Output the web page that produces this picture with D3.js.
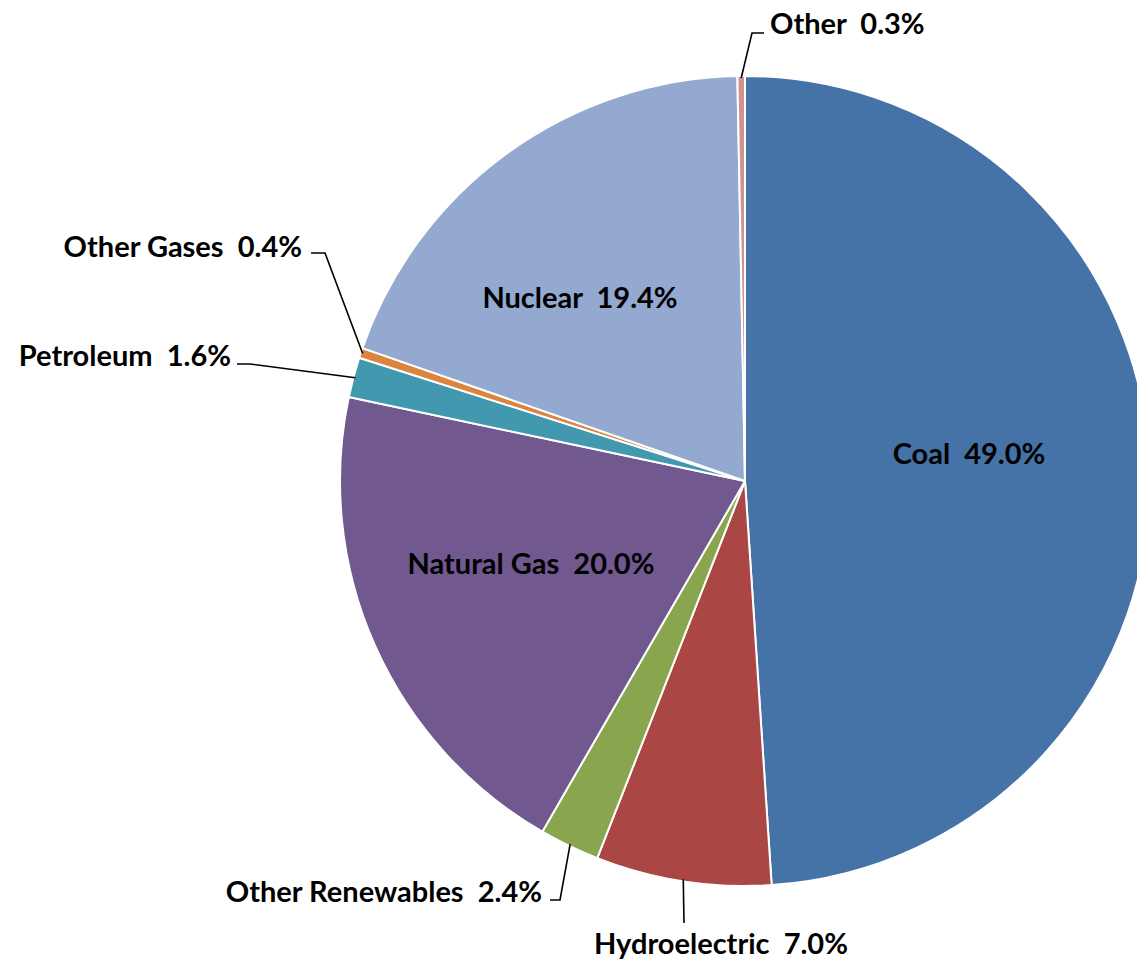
<!DOCTYPE html>
<html>
<head>
<meta charset="utf-8">
<script src="https://cdn.jsdelivr.net/npm/d3@7"></script>
<style>
  html, body { margin: 0; padding: 0; background: #fff; }
  svg text { font-family: Lato, "Open Sans", sans-serif; font-weight: bold; fill: #000; }
</style>
</head>
<body>
<svg id="chart" width="1137" height="960"></svg>
<script>
// Electricity generation by source (percent share)
const sources = ["Coal", "Hydroelectric", "Other Renewables", "Natural Gas", "Petroleum", "Other Gases", "Nuclear", "Other"];
const shares  = [49.0, 7.0, 2.4, 20.0, 1.6, 0.4, 19.4, 0.3];
const colors  = ["#4572A7", "#AA4643", "#89A54E", "#71588F", "#4198AF", "#DB843D", "#93A9CF", "#D19392"];

const width = 1137, height = 960;
const cx = 745, cy = 481, radius = 405;
const fontSize = 29;

const svg = d3.select("#chart");
const g = svg.append("g").attr("transform", `translate(${cx},${cy})`);

const data = sources.map((s, i) => ({ name: s, value: shares[i], color: colors[i] }));

const pie = d3.pie().value(d => d.value).sort(null);
const arc = d3.arc().innerRadius(0).outerRadius(radius);
const arcs = pie(data);

g.selectAll("path.slice")
  .data(arcs)
  .join("path")
  .attr("class", "slice")
  .attr("d", arc)
  .attr("fill", d => d.data.color)
  .attr("stroke", "#fff")
  .attr("stroke-width", 2)
  .attr("stroke-linejoin", "round");

const fmt = v => v.toFixed(1) + "%";

// Labels drawn inside the large slices (centre positions)
const inside = {
  "Coal":        [969, 452],
  "Natural Gas": [531, 562],
  "Nuclear":     [580, 296]
};

// Labels placed outside with leader lines
const outside = {
  "Other":            { tx: 770, ty: 22,  anchor: "start",  elbow: [752, 33],  end: [764, 33] },
  "Other Gases":      { tx: 302, ty: 245, anchor: "end",    elbow: [325, 253], end: [311, 253] },
  "Petroleum":        { tx: 231, ty: 354, anchor: "end",    elbow: [250, 364], end: [237, 364] },
  "Other Renewables": { tx: 542, ty: 890, anchor: "end",    elbow: [560, 900], end: [550, 900] },
  "Hydroelectric":    { tx: 721, ty: 942, anchor: "middle", elbow: [684, 923], end: [684, 923] }
};

const labelG = svg.append("g");

arcs.forEach(a => {
  const name = a.data.name;
  const mid = (a.startAngle + a.endAngle) / 2;
  const label = name + "  " + fmt(a.data.value);
  if (inside[name]) {
    const [x, y] = inside[name];
    labelG.append("text")
      .attr("x", x).attr("y", y)
      .attr("text-anchor", "middle")
      .attr("dominant-baseline", "central")
      .attr("font-size", fontSize)
      .attr("xml:space", "preserve")
      .text(label);
  } else if (outside[name]) {
    const o = outside[name];
    const px = cx + (radius - 2) * Math.sin(mid), py = cy - (radius - 2) * Math.cos(mid);
    labelG.append("polyline")
      .attr("points", [[px, py], o.elbow, o.end].map(p => p.join(",")).join(" "))
      .attr("fill", "none")
      .attr("stroke", "#000")
      .attr("stroke-width", 1.6);
    labelG.append("text")
      .attr("x", o.tx).attr("y", o.ty)
      .attr("text-anchor", o.anchor)
      .attr("dominant-baseline", "central")
      .attr("font-size", fontSize)
      .attr("xml:space", "preserve")
      .text(label);
  }
});
</script>
</body>
</html>
